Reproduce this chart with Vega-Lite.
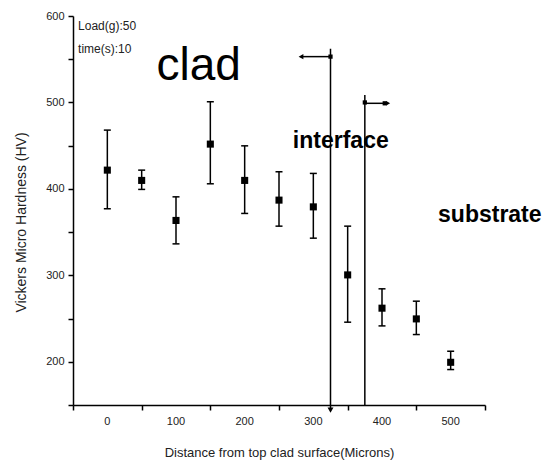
{
  "$schema": "https://vega.github.io/schema/vega-lite/v6.json",
  "autosize": "none",
  "width": 412,
  "height": 389,
  "padding": {"left": 73, "top": 16, "right": 66, "bottom": 59},
  "background": "white",
  "config": {
    "view": {"stroke": null},
    "font": "Liberation Sans",
    "axis": {
      "grid": false,
      "domainColor": "black",
      "domainWidth": 1.5,
      "tickColor": "black",
      "tickWidth": 1.5,
      "tickSize": 5,
      "labelFont": "Liberation Sans",
      "labelFontSize": 11,
      "labelColor": "#222",
      "titleFont": "Liberation Sans",
      "titleFontSize": 13,
      "titleFontWeight": "normal",
      "titleColor": "#222"
    }
  },
  "datasets": {
    "pts": [
      {"d": 0, "hv": 421.7, "lo": 377, "hi": 468},
      {"d": 50, "hv": 409.8, "lo": 399.4, "hi": 421.7},
      {"d": 100, "hv": 363.5, "lo": 336.4, "hi": 390.8},
      {"d": 150, "hv": 451.8, "lo": 405.9, "hi": 500.8},
      {"d": 200, "hv": 409.8, "lo": 371.6, "hi": 449.8},
      {"d": 250, "hv": 387, "lo": 356.9, "hi": 419.8},
      {"d": 300, "hv": 379.2, "lo": 343, "hi": 417.9},
      {"d": 350, "hv": 300.5, "lo": 245.8, "hi": 356.9},
      {"d": 400, "hv": 262, "lo": 241.5, "hi": 284.4},
      {"d": 450, "hv": 249.6, "lo": 231.5, "hi": 270.1},
      {"d": 500, "hv": 199.4, "lo": 191, "hi": 212.2}
    ],
    "xlabels": [
      {"d": 0, "hv": 150, "text": "0"},
      {"d": 100, "hv": 150, "text": "100"},
      {"d": 200, "hv": 150, "text": "200"},
      {"d": 300, "hv": 150, "text": "300"},
      {"d": 400, "hv": 150, "text": "400"},
      {"d": 500, "hv": 150, "text": "500"}
    ],
    "vlines": [
      {"d": 325, "top": 562, "bottom": 145},
      {"d": 375, "top": 508.5, "bottom": 150}
    ],
    "hlines": [
      {"hv": 553, "from": 325, "to": 282},
      {"hv": 499, "from": 375, "to": 408}
    ],
    "squares": [
      {"d": 325, "hv": 553},
      {"d": 375, "hv": 500},
      {"d": 404, "hv": 499}
    ],
    "leftArrows": [{"d": 282, "hv": 553}],
    "rightArrows": [{"d": 409, "hv": 499}],
    "downArrows": [{"d": 325, "hv": 144}],
    "notes": [
      {"d": -42.6, "hv": 583.8, "text": "Load(g):50"},
      {"d": -42.6, "hv": 556.8, "text": "time(s):10"}
    ],
    "big": [{"d": 133, "hv": 526, "text": "clad"}],
    "zones": [
      {"d": 340, "hv": 447, "text": "interface"},
      {"d": 557, "hv": 362, "text": "substrate"}
    ]
  },
  "layer": [
    {
      "data": {"name": "pts"},
      "mark": {"type": "point", "shape": "square", "filled": true, "color": "black", "size": 50, "opacity": 1},
      "encoding": {
        "x": {
          "field": "d", "type": "quantitative",
          "scale": {"domain": [-50, 550], "nice": false, "zero": false},
          "axis": {
            "title": "Distance from top clad surface(Microns)",
            "values": [-50, 0, 50, 100, 150, 200, 250, 300, 350, 400, 450, 500, 550],
            "labels": false,
            "titleY": 47,
            "titleBaseline": "middle"
          }
        },
        "y": {
          "field": "hv", "type": "quantitative",
          "scale": {"domain": [150, 600], "nice": false, "zero": false},
          "axis": {
            "title": "Vickers Micro Hardness (HV)",
            "values": [150, 200, 250, 300, 350, 400, 450, 500, 550, 600],
            "labelExpr": "(datum.value % 100 === 0) ? datum.label : ''",
            "labelOverlap": false,
            "labelFlush": false,
            "labelPadding": 4,
            "titleFontSize": 14,
            "titleX": -52,
            "titleY": 206,
            "titleBaseline": "middle",
            "titleAlign": "center",
            "titleAngle": -90
          }
        }
      }
    },
    {
      "data": {"name": "xlabels"},
      "mark": {"type": "text", "align": "center", "baseline": "middle", "dy": 17, "fontSize": 11, "color": "#222", "font": "Liberation Sans", "clip": false},
      "encoding": {
        "x": {"field": "d", "type": "quantitative"},
        "y": {"field": "hv", "type": "quantitative"},
        "text": {"field": "text"}
      }
    },
    {
      "data": {"name": "pts"},
      "mark": {"type": "rule", "color": "black", "strokeWidth": 1.5},
      "encoding": {
        "x": {"field": "d", "type": "quantitative"},
        "y": {"field": "lo", "type": "quantitative"},
        "y2": {"field": "hi"}
      }
    },
    {
      "data": {"name": "pts"},
      "mark": {"type": "tick", "orient": "horizontal", "color": "black", "size": 7, "thickness": 1.5, "opacity": 1},
      "encoding": {
        "x": {"field": "d", "type": "quantitative"},
        "y": {"field": "lo", "type": "quantitative"}
      }
    },
    {
      "data": {"name": "pts"},
      "mark": {"type": "tick", "orient": "horizontal", "color": "black", "size": 7, "thickness": 1.5, "opacity": 1},
      "encoding": {
        "x": {"field": "d", "type": "quantitative"},
        "y": {"field": "hi", "type": "quantitative"}
      }
    },
    {
      "data": {"name": "vlines"},
      "mark": {"type": "rule", "color": "black", "strokeWidth": 1.5, "clip": false},
      "encoding": {
        "x": {"field": "d", "type": "quantitative"},
        "y": {"field": "top", "type": "quantitative"},
        "y2": {"field": "bottom"}
      }
    },
    {
      "data": {"name": "hlines"},
      "mark": {"type": "rule", "color": "black", "strokeWidth": 1.5},
      "encoding": {
        "x": {"field": "from", "type": "quantitative"},
        "x2": {"field": "to"},
        "y": {"field": "hv", "type": "quantitative"}
      }
    },
    {
      "data": {"name": "squares"},
      "mark": {"type": "point", "shape": "square", "filled": true, "color": "black", "size": 18, "opacity": 1},
      "encoding": {
        "x": {"field": "d", "type": "quantitative"},
        "y": {"field": "hv", "type": "quantitative"}
      }
    },
    {
      "data": {"name": "leftArrows"},
      "mark": {"type": "point", "shape": "triangle-left", "filled": true, "color": "black", "size": 30, "opacity": 1},
      "encoding": {
        "x": {"field": "d", "type": "quantitative"},
        "y": {"field": "hv", "type": "quantitative"}
      }
    },
    {
      "data": {"name": "rightArrows"},
      "mark": {"type": "point", "shape": "triangle-right", "filled": true, "color": "black", "size": 20, "opacity": 1},
      "encoding": {
        "x": {"field": "d", "type": "quantitative"},
        "y": {"field": "hv", "type": "quantitative"}
      }
    },
    {
      "data": {"name": "downArrows"},
      "mark": {"type": "point", "shape": "triangle-down", "filled": true, "color": "black", "size": 35, "opacity": 1, "clip": false},
      "encoding": {
        "x": {"field": "d", "type": "quantitative"},
        "y": {"field": "hv", "type": "quantitative"}
      }
    },
    {
      "data": {"name": "notes"},
      "mark": {"type": "text", "align": "left", "baseline": "alphabetic", "fontSize": 12, "color": "#222", "font": "Liberation Sans"},
      "encoding": {
        "x": {"field": "d", "type": "quantitative"},
        "y": {"field": "hv", "type": "quantitative"},
        "text": {"field": "text"}
      }
    },
    {
      "data": {"name": "big"},
      "mark": {"type": "text", "align": "center", "baseline": "alphabetic", "fontSize": 46, "color": "black", "font": "Liberation Sans"},
      "encoding": {
        "x": {"field": "d", "type": "quantitative"},
        "y": {"field": "hv", "type": "quantitative"},
        "text": {"field": "text"}
      }
    },
    {
      "data": {"name": "zones"},
      "mark": {"type": "text", "align": "center", "baseline": "alphabetic", "fontSize": 23, "fontWeight": "bold", "color": "black", "font": "Liberation Sans"},
      "encoding": {
        "x": {"field": "d", "type": "quantitative"},
        "y": {"field": "hv", "type": "quantitative"},
        "text": {"field": "text"}
      }
    }
  ]
}
